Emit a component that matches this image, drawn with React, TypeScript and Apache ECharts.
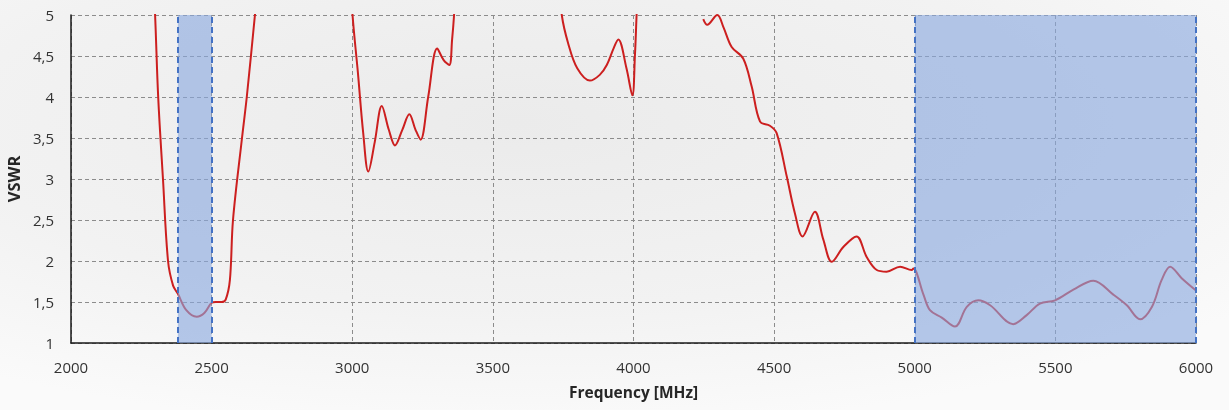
import React, { useEffect, useRef } from "react";
import * as echarts from "echarts";

// Frequency (MHz) / VSWR. Values > 5 leave the plot (clipped).
const freq1 = [2290, 2299, 2310, 2327, 2345, 2363, 2380, 2410, 2447, 2475, 2500, 2515, 2535, 2550, 2565, 2576, 2608, 2625, 2654, 2665];
const vswr1 = [5.6, 5.0, 4.0, 3.0, 2.0, 1.7, 1.6, 1.4, 1.32, 1.37, 1.49, 1.5, 1.5, 1.53, 1.77, 2.5, 3.5, 4.0, 5.0, 5.4];

const freq2 = [2996, 3001, 3020, 3039, 3057, 3080, 3105, 3130, 3152, 3178, 3203, 3225, 3243, 3270, 3302, 3325, 3345, 3355, 3362, 3368];
const vswr2 = [5.4, 5.0, 4.3, 3.56, 3.09, 3.45, 3.89, 3.6, 3.41, 3.6, 3.79, 3.6, 3.48, 4.0, 4.59, 4.45, 4.39, 4.7, 5.0, 5.4];

const freq3 = [3738, 3745, 3768, 3800, 3845, 3880, 3905, 3930, 3946, 3975, 3996, 4005, 4011, 4016];
const vswr3 = [5.4, 5.0, 4.65, 4.35, 4.2, 4.27, 4.39, 4.6, 4.7, 4.35, 4.02, 4.5, 5.0, 5.4];

const freq4 = [4248, 4262, 4298, 4320, 4349, 4390, 4420, 4450, 4485, 4509, 4545, 4574, 4601, 4645, 4675, 4705, 4746, 4793, 4829, 4865, 4900, 4948, 4989,
  4995, 5030, 5054, 5096, 5143, 5185, 5226, 5268, 5350, 5398, 5445, 5499, 5564, 5635, 5706, 5754, 5801, 5843, 5878, 5908, 5949, 6000];
const vswr4 = [4.95, 4.88, 5.0, 4.85, 4.61, 4.47, 4.13, 3.7, 3.65, 3.56, 3.03, 2.58, 2.3, 2.6, 2.26, 1.99, 2.17, 2.3, 2.05, 1.89, 1.87, 1.93, 1.89,
  1.91, 1.6, 1.4, 1.31, 1.2, 1.44, 1.52, 1.46, 1.23, 1.34, 1.48, 1.52, 1.65, 1.76, 1.59, 1.46, 1.29, 1.44, 1.77, 1.93, 1.79, 1.64];

const bandStarts = [2380, 5000];
const bandEnds = [2500, 6000];

const xTicks = [2000, 2500, 3000, 3500, 4000, 4500, 5000, 5500, 6000];

function pairs(xs: number[], ys: number[]) {
  return xs.map((x, i) => [x, ys[i]]);
}

export default function App() {
  const ref = useRef<HTMLDivElement>(null);
  useEffect(() => {
    if (!ref.current) return;
    const chart = echarts.init(ref.current, undefined, { renderer: "svg" });
    const data: any[] = [
      ...pairs(freq1, vswr1), [2800, null],
      ...pairs(freq2, vswr2), [3500, null],
      ...pairs(freq3, vswr3), [4100, null],
      ...pairs(freq4, vswr4),
    ];
    const font = "'Open Sans', 'Noto Sans', sans-serif";
    chart.setOption({
      animation: false,
      backgroundColor: {
        type: "radial", x: 0.42, y: 0.3, r: 0.75,
        colorStops: [
          { offset: 0, color: "#ebebeb" },
          { offset: 0.6, color: "#f2f2f2" },
          { offset: 1, color: "#fafafa" },
        ],
      },
      grid: { left: 71, right: 33, top: 15, bottom: 67, outerBoundsMode: "none", containLabel: false },
      xAxis: {
        type: "value", min: 2000, max: 6000, interval: 500,
        name: "Frequency [MHz]", nameLocation: "middle", nameGap: 41,
        nameTextStyle: { fontFamily: font, fontWeight: "bold", fontSize: 15.5, color: "#262626" },
        axisLine: { show: true, lineStyle: { color: "#1a1a1a", width: 1.5 } },
        axisTick: { show: false },
        axisLabel: { fontFamily: font, fontSize: 15, color: "#333", margin: 16,
          formatter: (v: number) => (xTicks.includes(v) ? String(v) : "") },
        splitLine: { show: true, lineStyle: { color: "#8c8c8c", type: [4, 3], width: 1 } },
      },
      yAxis: {
        type: "value", min: 1, max: 5, interval: 0.5,
        name: "VSWR", nameLocation: "middle", nameGap: 47, nameRotate: 90,
        nameTextStyle: { fontFamily: font, fontWeight: "bold", fontSize: 16.5, color: "#262626" },
        axisLine: { show: true, lineStyle: { color: "#1a1a1a", width: 1.5 } },
        axisTick: { show: false },
        axisLabel: { fontFamily: font, fontSize: 15, color: "#333", margin: 17,
          formatter: (v: number) => String(v).replace(".", ",") },
        splitLine: { show: true, lineStyle: { color: "#8c8c8c", type: [4, 3], width: 1 } },
      },
      series: [
        {
          type: "line", z: 1, data, smooth: 0.35, showSymbol: false, connectNulls: false, clip: true,
          lineStyle: { color: "#cc1f1f", width: 2 },
        },
        {
          type: "line", z: 10, data: [], silent: true,
          markArea: {
            z: 10, silent: true,
            itemStyle: { color: "rgba(137,168,222,0.62)", borderWidth: 0 },
            data: bandStarts.map((s, i) => [{ xAxis: s }, { xAxis: bandEnds[i] }]),
          },
          markLine: {
            z: 11, silent: true, symbol: ["none", "none"], label: { show: false },
            lineStyle: { color: "#4472c4", type: [6, 4], width: 2 },
            data: [...bandStarts, ...bandEnds].map((v) => ({ xAxis: v })),
          },
        },
      ],
    });
    return () => chart.dispose();
  }, []);
  return <div ref={ref} style={{ position: "fixed", left: 0, top: 0, width: 1229, height: 410 }} />;
}
